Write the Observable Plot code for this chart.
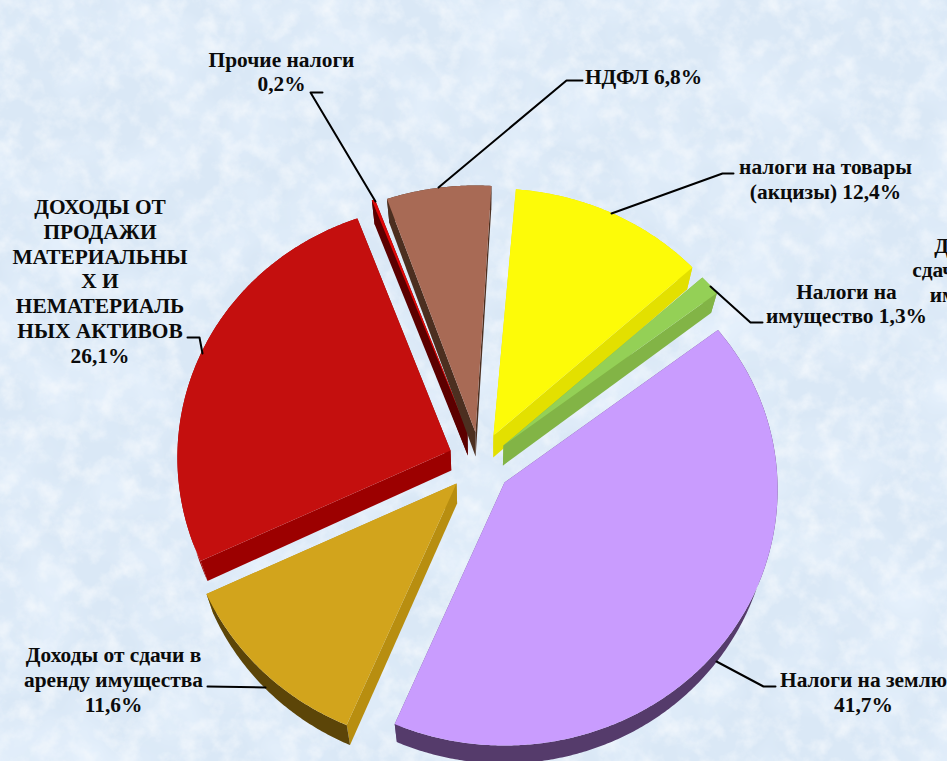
<!DOCTYPE html>
<html lang="ru">
<head>
<meta charset="utf-8">
<script src="https://cdn.jsdelivr.net/npm/d3@7"></script>
<script src="https://cdn.jsdelivr.net/npm/@observablehq/plot@0.6"></script>
<style>
  html, body { margin: 0; padding: 0; overflow: hidden; background: #dbe9f7; }
  #stage { position: relative; width: 947px; height: 761px; overflow: hidden; }
  #paper { position: absolute; left: 0; top: 0; }
  #chart { position: absolute; left: 0; top: 0; }
</style>
</head>
<body>
<div id="stage">
  <svg id="paper" width="947" height="761" aria-hidden="true">
    <defs>
      <filter id="mottleLight" x="0" y="0" width="100%" height="100%">
        <feTurbulence type="fractalNoise" baseFrequency="0.05" numOctaves="5" seed="7"/>
        <feColorMatrix type="matrix" values="0 0 0 0 0.92  0 0 0 0 0.95  0 0 0 0 0.98  1.6 0 0 0 -0.68"/>
      </filter>
      <filter id="mottleBlue" x="0" y="0" width="100%" height="100%">
        <feTurbulence type="fractalNoise" baseFrequency="0.014" numOctaves="3" seed="21"/>
        <feColorMatrix type="matrix" values="0 0 0 0 0.78  0 0 0 0 0.87  0 0 0 0 0.97  0 2.2 0 0 -0.85"/>
      </filter>
    </defs>
    <rect width="947" height="761" fill="#dae8f6"/>
    <rect width="947" height="761" filter="url(#mottleBlue)"/>
    <rect width="947" height="761" filter="url(#mottleLight)"/>
  </svg>
  <div id="chart"></div>
</div>
<script>
// ---------- chart values ----------
const categories = [
  "налоги на товары (акцизы)",
  "Налоги на имущество",
  "Налоги на землю",
  "Доходы от сдачи в аренду имущества",
  "Доходы от продажи материальных и нематериальных активов",
  "Прочие налоги",
  "НДФЛ"
];
const shares = [12.4, 1.3, 41.7, 11.6, 26.1, 0.2, 6.8];

const labelTexts = [
  "налоги на товары\n(акцизы) 12,4%",
  "Налоги на\nимущество 1,3%",
  "Налоги на землю\n41,7%",
  "Доходы от сдачи в\nаренду имущества\n11,6%",
  "ДОХОДЫ ОТ\nПРОДАЖИ\nМАТЕРИАЛЬНЫ\nХ И\nНЕМАТЕРИАЛЬ\nНЫХ АКТИВОВ\n26,1%",
  "Прочие налоги\n0,2%",
  "НДФЛ 6,8%",
  "Доходы от\nсдачи в аренду\nимущества"
];

// ---------- styling ----------
const topColors    = ["#fdfb08", "#94d056", "#c99cfe", "#d2a41c", "#c40f0e", "#e00808", "#a86a55"];
const radialColors = ["#e3e000", "#82b446", "#6a4e86", "#b88e10", "#9c0000", "#5c0000", "#4c2f20"];
const arcColors    = ["#e3e000", "#82b446", "#553b6b", "#5c4508", "#9c0000", "#5c0000", "#4c2f20"];

// ---------- layout (pixels in the chart's own coordinate space) ----------
const width = 947, height = 761;
const startAngle = 5.2;
const apexX = [493, 503, 504, 456, 450, 467, 475];
const apexY = [435, 445, 482, 483, 450, 431, 432];
const turn  = [0, 0, 0, 0, 0, -2.5, -1.5];
const squeeze = [1, 1, 1, 1, 0.98, 1, 1];
const depth = [22, 20, 18, 20, 20, 24, 24];
const vanishX = 480, vanishScale = 0.975;

const labelX = [825, 846, 863, 113, 99.5, 281, 643, 983];
const labelY = [178, 302.5, 691, 678.5, 280, 70.5, 76, 269];

const leaderX = [[733, 722, 611], [762, 750, 710], [775, 763, 716], [207, 265], [187, 199, 202], [322, 310, 375], [582, 566, 438]];
const leaderY = [[173, 173, 213], [322, 322, 286], [686, 686, 661], [686, 687], [337, 337, 353], [92, 92, 201], [80, 80, 187]];

// Radius of the slightly foreshortened pie for a given direction.
const rad = d => d * Math.PI / 180;
const radiusAt = a => 264 - 8 * Math.cos(rad(a)) - 9 * Math.cos(rad(2 * a));
const sink = (p, dz) => ({x: vanishX + (p.x - vanishX) * vanishScale, y: p.y + dz});
const rim = (i, a) => ({
  x: apexX[i] + radiusAt(a) * Math.sin(rad(a)),
  y: apexY[i] - radiusAt(a) * Math.cos(rad(a))
});

// Build slice polygons from the shares.
const total = d3.sum(shares);
let cursor = startAngle;
const polys = [];
shares.forEach((s, i) => {
  const sweep = (s / total) * 360;
  const a0 = cursor + turn[i], a1 = a0 + sweep * squeeze[i];
  cursor += sweep;
  const dz = depth[i];
  const steps = Math.max(2, Math.ceil((a1 - a0) * 2));
  const arc = d3.range(steps + 1).map(k => a0 + (a1 - a0) * k / steps);
  const apex = {x: apexX[i], y: apexY[i]};
  const low = sink(apex, dz);
  const add = (part, pts, color) =>
    pts.forEach(p => polys.push({id: `${i}-${part}`, category: categories[i], x: p.x, y: p.y, color}));
  add("r0", [apex, rim(i, a0), sink(rim(i, a0), dz), low], radialColors[i]);
  add("r1", [apex, rim(i, a1), sink(rim(i, a1), dz), low], radialColors[i]);
  add("arc", [...arc.map(a => rim(i, a)), ...arc.slice().reverse().map(a => sink(rim(i, a), dz))], arcColors[i]);
  add("top", [apex, ...arc.map(a => rim(i, a))], topColors[i]);
});

const labels = labelTexts.map((text, i) => ({text, x: labelX[i], y: labelY[i]}));
const leaders = leaderX.flatMap((xs, i) => xs.map((x, k) => ({id: i, x, y: leaderY[i][k]})));

const plot = Plot.plot({
  width, height,
  margin: 0,
  x: {domain: [0, width], axis: null},
  y: {domain: [height, 0], axis: null},
  color: {type: "identity"},
  style: {background: "transparent"},
  marks: [
    Plot.line(polys, {x: "x", y: "y", z: "id", fill: "color", stroke: null, curve: "linear-closed"}),
    Plot.line(leaders, {x: "x", y: "y", z: "id", stroke: "#000", strokeWidth: 2, curve: "linear"}),
    Plot.text(labels, {
      x: "x", y: "y", text: "text",
      fontFamily: "Liberation Serif", fontWeight: "bold", fontSize: 21.4,
      lineHeight: 1.155, lineAnchor: "middle", textAnchor: "middle", fill: "#0b0b0b"
    })
  ]
});
document.getElementById("chart").appendChild(plot);
</script>
</body>
</html>
